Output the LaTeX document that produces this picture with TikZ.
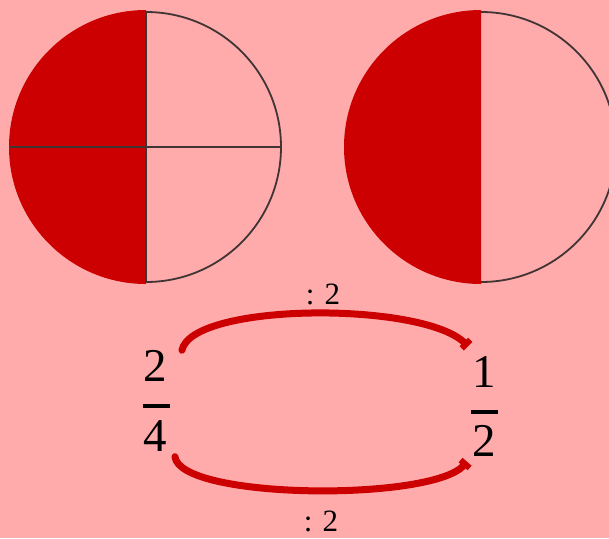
\documentclass[tikz,border=0pt]{standalone}
\usepackage{fontspec}
\setmainfont{Liberation Serif}
\usetikzlibrary{arrows.meta,calc}
\definecolor{bgpink}{HTML}{FFABAB}
\definecolor{fillred}{HTML}{CC0000}
\definecolor{rimgray}{HTML}{403434}
\tikzset{rim/.style={draw=rimgray, line width=1.8pt},
  digit/.style={font=\fontsize{47}{50}\selectfont, inner sep=0pt},
  oplabel/.style={font=\fontsize{31}{33}\selectfont, inner sep=0pt},
  bendarrow/.style={draw=fillred, line width=7pt, line cap=round, -{Rectangle[length=6pt,width=12pt]}},
  fracbar/.style={line width=3.2pt}}

\begin{document}
\begin{tikzpicture}[x=1pt,y=1pt]
  \fill[bgpink] (0,0) rectangle (609,-538);
  \clip (0,0) rectangle (609,-538);
  % left circle, quarters
  \coordinate (cl) at (146,-147);
  \fill[fillred] ($(cl)+(0,137)$) arc[start angle=90, end angle=270, radius=137] -- cycle;
  \draw[rim] ($(cl)+(0,-135)$) arc[start angle=-90, end angle=90, radius=135];
  \draw[rim] ($(cl)+(-136,0)$) -- ($(cl)+(135,0)$);
  \draw[rim] ($(cl)+(0,135)$) -- ($(cl)+(0,-135)$);
  % right circle, halves
  \coordinate (cr) at (481,-147);
  \fill[fillred] ($(cr)+(0,137)$) arc[start angle=90, end angle=270, radius=137] -- cycle;
  \draw[rim] ($(cr)+(0,-135)$) arc[start angle=-90, end angle=90, radius=135];
  % fraction 2/4
  \node[digit] (n24) at (155,-366) {2};
  \node[digit] (d24) at (155,-436) {4};
  \draw[fracbar] (143,-406) -- (170,-406);
  % fraction 1/2
  \node[digit] (n12) at (484,-372) {1};
  \node[digit] (d12) at (484,-441) {2};
  \draw[fracbar] (471,-412) -- (498,-412);
  % arcs
  \coordinate (ta) at ($(n24.north east)+(15,0)$);
  \coordinate (tb) at ($(n12.north west)+(-4,10)$);
  \draw[bendarrow] (ta) .. controls ($(ta)+(10,48)$) and ($(tb)+(-45,45)$) .. (tb);
  \node[oplabel] (optop) at (323,-294) {:\,\,2};
  \coordinate (ba) at ($(d24.south east)+(8,-5)$);
  \coordinate (bb) at ($(d12.south west)+(-5,-5)$);
  \draw[bendarrow] (ba) .. controls ($(ba)+(5,-43)$) and ($(bb)+(-35,-40)$) .. (bb);
  \node[oplabel] (opbot) at (321,-521) {:\,\,2};
\end{tikzpicture}
\end{document}
